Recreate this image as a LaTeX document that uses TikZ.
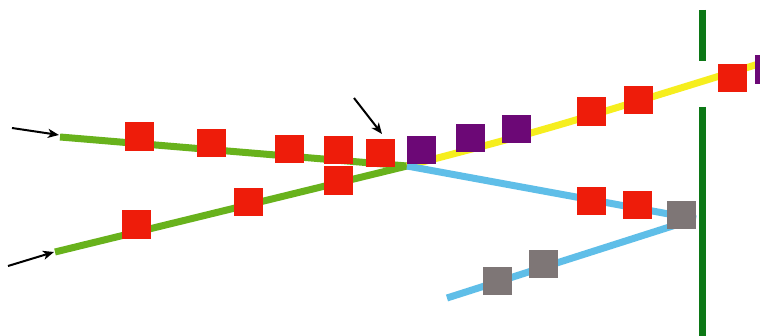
\documentclass[tikz,border=0pt]{standalone}
\usetikzlibrary{arrows.meta}
\definecolor{trackgreen}{RGB}{104,178,28}
\definecolor{trackyellow}{RGB}{246,238,30}
\definecolor{trackblue}{RGB}{95,190,232}
\definecolor{carred}{RGB}{238,28,10}
\definecolor{carpurple}{RGB}{108,8,118}
\definecolor{cargray}{RGB}{126,118,118}
\definecolor{barrier}{RGB}{12,120,22}
\tikzset{
  car/.style={rectangle, inner sep=0pt, minimum width=29pt, minimum height=28.5pt},
  redcar/.style={car, fill=carred},
  purplecar/.style={car, fill=carpurple},
  graycar/.style={car, fill=cargray},
  track/.style={line width=7pt},
  pointer/.style={-{Stealth[length=11pt,width=9pt,inset=3pt]}, line width=2pt, black},
  wall/.style={line width=7pt, barrier}
}
\begin{document}
\begin{tikzpicture}[x=1pt,y=-1pt]
\useasboundingbox (0,0) rectangle (760,336);
\fill[white] (0,0) rectangle (760,336);

% track end points
\coordinate (ga) at (60,137);
\coordinate (gb) at (55,252);
\coordinate (mg) at (407,166);
\coordinate (ye) at (765,62);
\coordinate (ym) at (545,130);
\coordinate (be) at (696,219);
\coordinate (bs) at (447,298);
\coordinate (bm) at (682,223);

% tracks
\draw[track, trackgreen] (ga) -- (mg);
\draw[track, trackgreen] (gb) -- (mg);
\draw[track, trackyellow] (mg) .. controls (ym) .. (ye);
\draw[track, trackblue] (mg) -- (be);
\draw[track, trackblue] (bs) -- (bm);

% barrier with a gap
\coordinate (w1) at (702,10);
\coordinate (w2) at (702,61);
\coordinate (w3) at (702,107);
\coordinate (w4) at (702,340);
\draw[wall] (w1) -- (w2);
\draw[wall] (w3) -- (w4);

% cars on the upper green track
\node[redcar] (r1) at (139,136.5) {};
\node[redcar] (r2) at (211,143) {};
\node[redcar] (r3) at (289,149) {};
\node[redcar] (r4) at (338,150) {};
\node[redcar] (r5) at (380,153) {};
% cars on the lower green track
\node[redcar] (r6) at (136,224.5) {};
\node[redcar] (r7) at (248,202) {};
\node[redcar] (r8) at (338,180.5) {};
% cars on the yellow track
\node[purplecar] (p1) at (421,150) {};
\node[purplecar] (p2) at (470,138) {};
\node[purplecar] (p3) at (516,129) {};
\node[redcar] (r9) at (591,111.5) {};
\node[redcar] (r10) at (638.5,100) {};
\node[redcar] (r11) at (732.5,78) {};
\node[purplecar] (p4) at (769.5,69.5) {};
% cars on the blue tracks
\node[redcar] (r12) at (591.5,201) {};
\node[redcar] (r13) at (637,205) {};
\node[graycar] (g1) at (681,215) {};
\node[graycar] (g2) at (543.5,264) {};
\node[graycar] (g3) at (497.5,281) {};

% pointers
\coordinate (a1s) at (12,128);
\coordinate (a1e) at (59,135);
\coordinate (a2s) at (8,266);
\coordinate (a2e) at (54,252);
\coordinate (a3s) at (354,98);
\coordinate (a3e) at (382,134);
\draw[pointer] (a1s) -- (a1e);
\draw[pointer] (a2s) -- (a2e);
\draw[pointer] (a3s) -- (a3e);
\end{tikzpicture}
\end{document}
